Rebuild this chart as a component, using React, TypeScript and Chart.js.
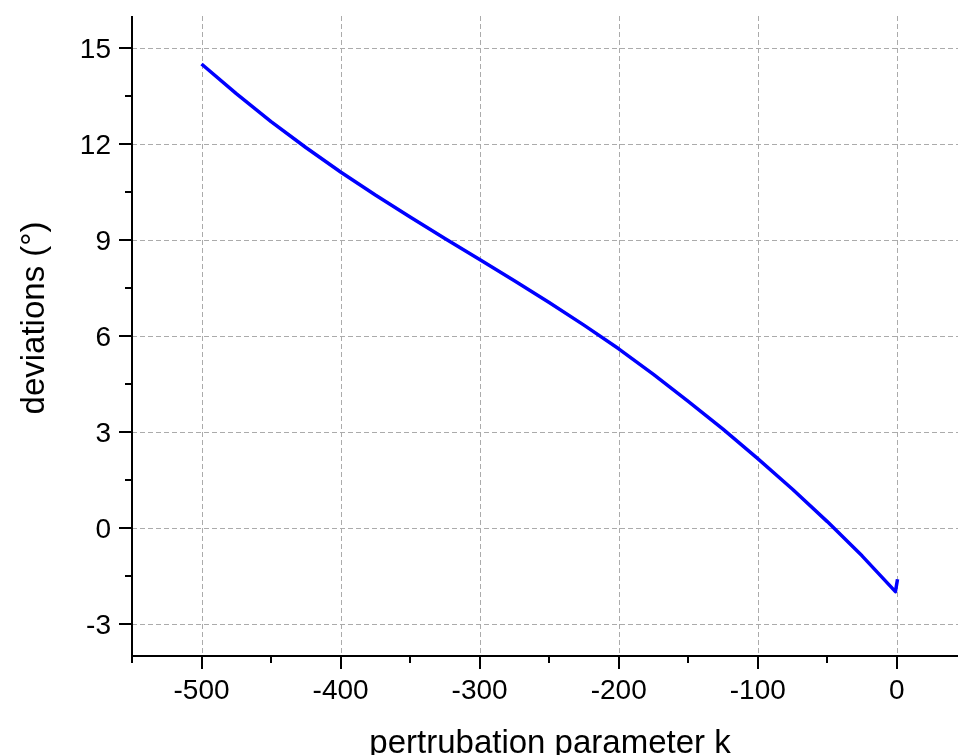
import React, { useEffect, useRef } from 'react';
import { Chart, registerables } from 'chart.js';

Chart.register(...registerables);

// ---- data ----
const kValues = [-500, -475, -450, -425, -400, -375, -350, -325, -300, -275, -250, -225, -200, -175, -150, -125, -100, -75, -50, -25, -1, 0.5];
const deviations = [14.5, 13.575, 12.7, 11.89, 11.125, 10.405, 9.72, 9.05, 8.39, 7.73, 7.05, 6.34, 5.6, 4.8, 3.96, 3.09, 2.17, 1.21, 0.2, -0.87, -1.99, -1.6];

const xMajorTicks = [-500, -400, -300, -200, -100, 0];
const xMinorTicks = [-550, -450, -350, -250, -150, -50];
const yMajorTicks = [-3, 0, 3, 6, 9, 12, 15];
const yMinorTicks = [-1.5, 1.5, 4.5, 7.5, 10.5, 13.5];

const xTitle = 'pertrubation parameter k';
const yTitle = 'deviations (°)';

const FONT = 'Arial, "Liberation Sans", sans-serif';

const axesPlugin = {
  id: 'originAxes',
  beforeDatasetsDraw(chart: any) {
    const { ctx, chartArea, scales } = chart;
    const x = scales.x;
    const y = scales.y;
    ctx.save();
    ctx.strokeStyle = '#ababab';
    ctx.lineWidth = 1;
    ctx.setLineDash([5, 3]);
    for (const v of xMajorTicks) {
      const px = Math.round(x.getPixelForValue(v)) + 0.5;
      ctx.beginPath();
      ctx.moveTo(px, chartArea.top);
      ctx.lineTo(px, chartArea.bottom);
      ctx.stroke();
    }
    for (const v of yMajorTicks) {
      const py = Math.round(y.getPixelForValue(v)) + 0.5;
      ctx.beginPath();
      ctx.moveTo(chartArea.left, py);
      ctx.lineTo(chartArea.right, py);
      ctx.stroke();
    }
    ctx.restore();
  },
  afterDatasetsDraw(chart: any) {
    const { ctx, chartArea, scales } = chart;
    const x = scales.x;
    const y = scales.y;
    const L = chartArea.left;
    const B = chartArea.bottom;
    ctx.save();
    ctx.setLineDash([]);
    ctx.strokeStyle = '#000';
    ctx.lineWidth = 2;
    // axis lines
    ctx.beginPath();
    ctx.moveTo(L, chartArea.top);
    ctx.lineTo(L, B + 1);
    ctx.moveTo(L - 1, B);
    ctx.lineTo(chartArea.right, B);
    ctx.stroke();
    // ticks
    ctx.beginPath();
    for (const v of xMajorTicks) {
      const px = Math.round(x.getPixelForValue(v));
      ctx.moveTo(px, B);
      ctx.lineTo(px, B + 13);
    }
    for (const v of xMinorTicks) {
      const px = Math.round(x.getPixelForValue(v));
      ctx.moveTo(px, B);
      ctx.lineTo(px, B + 7);
    }
    for (const v of yMajorTicks) {
      const py = Math.round(y.getPixelForValue(v));
      ctx.moveTo(L, py);
      ctx.lineTo(L - 13, py);
    }
    for (const v of yMinorTicks) {
      const py = Math.round(y.getPixelForValue(v));
      ctx.moveTo(L, py);
      ctx.lineTo(L - 7, py);
    }
    ctx.stroke();
    // tick labels
    ctx.fillStyle = '#000';
    ctx.font = `28px ${FONT}`;
    ctx.textBaseline = 'alphabetic';
    ctx.textAlign = 'center';
    for (const v of xMajorTicks) {
      ctx.fillText(String(v), x.getPixelForValue(v), B + 43);
    }
    ctx.textAlign = 'right';
    for (const v of yMajorTicks) {
      ctx.fillText(String(v), L - 21, y.getPixelForValue(v) + 10);
    }
    // titles
    ctx.font = `33px ${FONT}`;
    ctx.textAlign = 'center';
    ctx.fillText(xTitle, 550, 753);
    ctx.translate(44, 318);
    ctx.rotate(-Math.PI / 2);
    ctx.fillText(yTitle, 0, 0);
    ctx.restore();
  },
};

export default function App() {
  const canvasRef = useRef<HTMLCanvasElement | null>(null);

  useEffect(() => {
    const canvas = canvasRef.current;
    if (!canvas) return;
    const points = kValues.map((k, i) => ({ x: k, y: deviations[i] }));
    const chart = new Chart(canvas, {
      type: 'line',
      data: {
        datasets: [
          {
            data: points,
            borderColor: '#0000ff',
            borderWidth: 3.5,
            pointRadius: 0,
            fill: false,
            tension: 0,
            borderJoinStyle: 'round',
          },
        ],
      },
      options: {
        responsive: false,
        animation: false,
        devicePixelRatio: 1,
        layout: { padding: { left: 132, right: 0, top: 16, bottom: 99 } },
        plugins: { legend: { display: false }, tooltip: { enabled: false } },
        scales: {
          x: { type: 'linear', min: -550, max: 44, display: false },
          y: { type: 'linear', min: -4, max: 16, display: false },
        },
      },
      plugins: [axesPlugin],
    });
    return () => chart.destroy();
  }, []);

  return (
    <div style={{ position: 'fixed', left: 0, top: 0, width: 958, height: 755, background: '#fff' }}>
      <canvas ref={canvasRef} width={958} height={755} />
    </div>
  );
}
